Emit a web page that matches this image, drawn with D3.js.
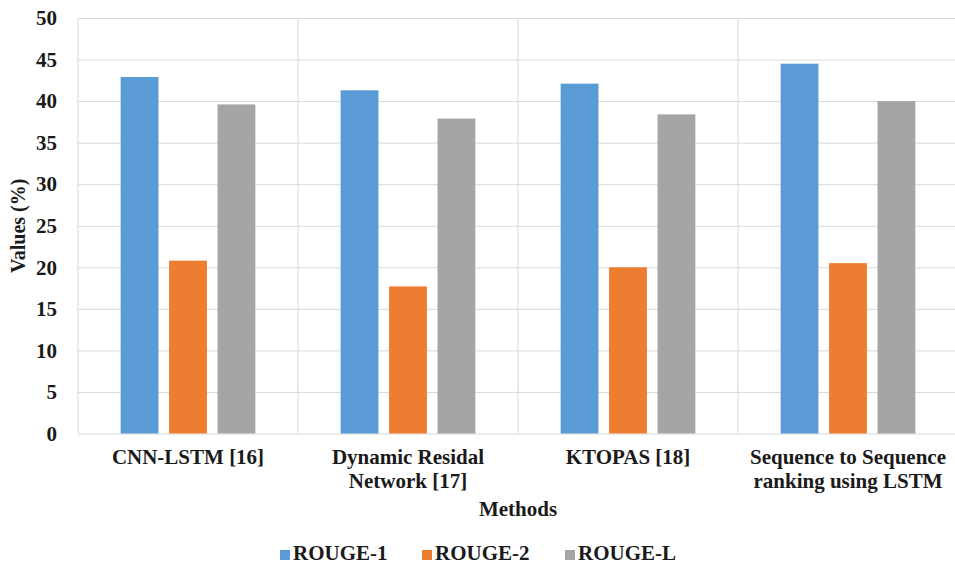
<!DOCTYPE html>
<html>
<head>
<meta charset="utf-8">
<script src="https://cdn.jsdelivr.net/npm/d3@7"></script>
<style>
  body { margin: 0; background: #fff; }
  svg text { font-family: "Liberation Serif", "DejaVu Serif", "Times New Roman", serif; font-weight: bold; fill: #1a1a1a; }
</style>
</head>
<body>
<div id="chart"></div>
<script>
// chart data
var categories = ["CNN-LSTM [16]", "Dynamic Residal Network [17]", "KTOPAS [18]", "Sequence to Sequence ranking using LSTM"];
var categoryLines = [["CNN-LSTM [16]"], ["Dynamic Residal", "Network [17]"], ["KTOPAS [18]"], ["Sequence to Sequence", "ranking using LSTM"]];
var series = ["ROUGE-1", "ROUGE-2", "ROUGE-L"];
var rouge1 = [42.9, 41.3, 42.1, 44.5];
var rouge2 = [20.8, 17.7, 20.0, 20.5];
var rougeL = [39.6, 37.9, 38.4, 40.0];
var yTicks = [0, 5, 10, 15, 20, 25, 30, 35, 40, 45, 50];
var colors = ["#5B9BD5", "#ED7D31", "#A5A5A5"];

var width = 955, height = 565;
var margin = { top: 18, right: -3, bottom: 131.5, left: 78 };
var serif = "'Liberation Serif', 'DejaVu Serif', 'Times New Roman', serif";

var svg = d3.select("#chart").append("svg")
    .attr("width", width)
    .attr("height", height);

var x0 = d3.scaleBand()
    .domain(categories)
    .range([margin.left, width - margin.right]);

var x1 = d3.scaleBand()
    .domain(series)
    .range([0, x0.bandwidth()])
    .paddingInner(0.22)
    .paddingOuter(0.88);

var y = d3.scaleLinear()
    .domain([0, 50])
    .range([height - margin.bottom, margin.top]);

var color = d3.scaleOrdinal().domain(series).range(colors);

// horizontal gridlines
svg.append("g")
    .attr("transform", "translate(" + margin.left + ",0)")
    .call(d3.axisLeft(y).tickValues(yTicks).tickSize(-(width - margin.right - margin.left)).tickFormat(""))
    .call(g => g.select(".domain").remove())
    .selectAll("line")
    .attr("stroke", "#d9d9d9");

// vertical category separators
var bounds = categories.map(c => x0(c)).concat([x0(categories[categories.length - 1]) + x0.bandwidth()]);
svg.append("g").selectAll("line")
    .data(bounds)
    .enter().append("line")
    .attr("x1", d => d).attr("x2", d => d)
    .attr("y1", y(50)).attr("y2", y(0))
    .attr("stroke", "#d9d9d9");

// bars
var rows = categories.map(function (c, i) {
    return { cat: c, values: [rouge1[i], rouge2[i], rougeL[i]] };
});

var groups = svg.append("g").selectAll("g")
    .data(rows)
    .enter().append("g")
    .attr("transform", d => "translate(" + x0(d.cat) + ",0)");

groups.selectAll("rect")
    .data(d => d.values.map((v, j) => ({ key: series[j], value: v })))
    .enter().append("rect")
    .attr("x", d => x1(d.key))
    .attr("width", x1.bandwidth())
    .attr("y", d => y(d.value))
    .attr("height", d => y(0) - y(d.value))
    .attr("fill", d => color(d.key));

// y axis labels
svg.append("g")
    .attr("transform", "translate(" + margin.left + ",0)")
    .attr("font-family", serif)
    .call(d3.axisLeft(y).tickValues(yTicks).tickSize(0).tickPadding(21))
    .call(g => g.select(".domain").remove())
    .selectAll("text")
    .style("font-size", "21px")
    .style("font-family", serif)
    .style("font-weight", "bold")
    .attr("fill", "#1a1a1a");

// category labels
var catLabels = svg.append("g").selectAll("text")
    .data(categories)
    .enter().append("text")
    .attr("x", d => x0(d) + x0.bandwidth() / 2)
    .attr("y", 464)
    .attr("text-anchor", "middle")
    .style("font-size", "21px");

catLabels.selectAll("tspan")
    .data((d, i) => categoryLines[i])
    .enter().append("tspan")
    .attr("x", function () { return d3.select(this.parentNode).attr("x"); })
    .attr("dy", (d, i) => i === 0 ? 0 : 24)
    .text(d => d);

// axis titles
svg.append("text")
    .attr("x", (margin.left + width - margin.right) / 2)
    .attr("y", 516)
    .attr("text-anchor", "middle")
    .style("font-size", "21px")
    .text("Methods");

svg.append("text")
    .attr("transform", "translate(25," + ((y(0) + y(50)) / 2) + ") rotate(-90)")
    .attr("text-anchor", "middle")
    .style("font-size", "20px")
    .text("Values (%)");

// legend
var legendX = [280, 422, 565];
var legend = svg.append("g").selectAll("g")
    .data(series)
    .enter().append("g")
    .attr("transform", (d, i) => "translate(" + legendX[i] + ",550)");

legend.append("rect")
    .attr("width", 10)
    .attr("height", 10)
    .attr("fill", d => color(d));

legend.append("text")
    .attr("x", 13)
    .attr("y", 10)
    .style("font-size", "21px")
    .text(d => d);
</script>
</body>
</html>
